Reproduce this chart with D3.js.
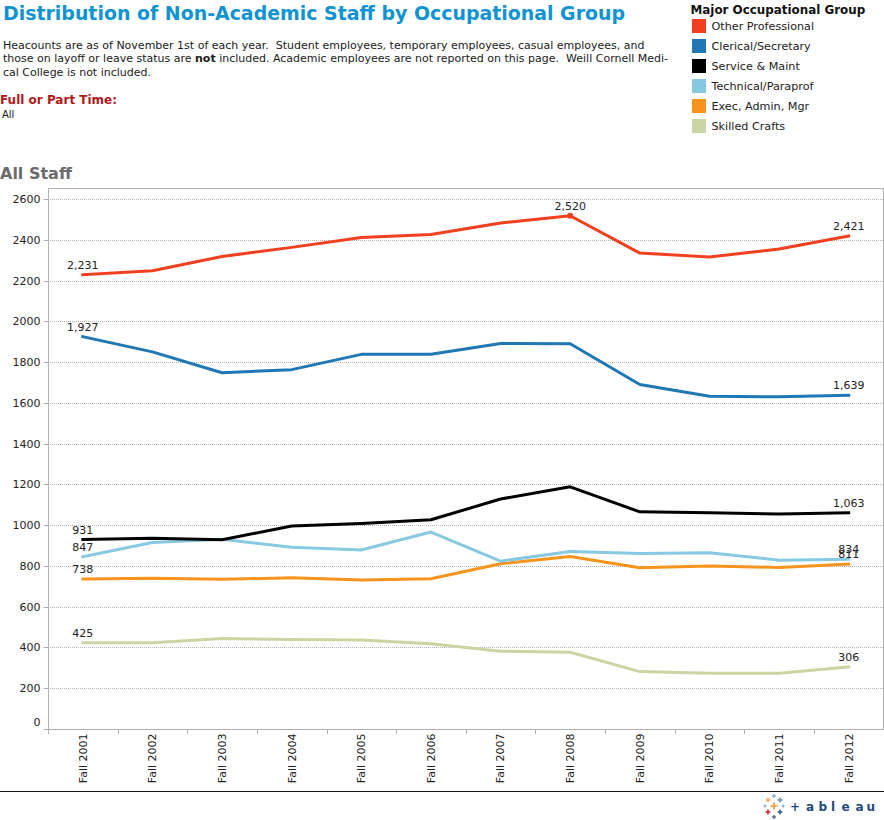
<!DOCTYPE html>
<html>
<head>
<meta charset="utf-8">
<script src="https://cdn.jsdelivr.net/npm/d3@7"></script>
<style>
  html, body { margin: 0; padding: 0; background: #fff; }
  svg { display: block; font-family: "DejaVu Sans", Verdana, sans-serif; }
</style>
</head>
<body>
<svg id="chart" width="884" height="820"></svg>
<script>
var years = ["Fall 2001", "Fall 2002", "Fall 2003", "Fall 2004", "Fall 2005", "Fall 2006",
             "Fall 2007", "Fall 2008", "Fall 2009", "Fall 2010", "Fall 2011", "Fall 2012"]
var groups = ["Other Professional", "Clerical/Secretary", "Service & Maint",
              "Technical/Paraprof", "Exec, Admin, Mgr", "Skilled Crafts"]
var colors = ["#f1401f", "#1f77b4", "#000000", "#87c9e0", "#f7941d", "#c9d6a3"]

var otherProfessional = [2231, 2250, 2320, 2365, 2413, 2428, 2485, 2520, 2337, 2318, 2357, 2421]
var clericalSecretary = [1927, 1852, 1750, 1765, 1840, 1840, 1893, 1892, 1692, 1634, 1632, 1639]
var serviceMaint      = [931, 938, 930, 998, 1010, 1028, 1130, 1190, 1067, 1062, 1057, 1063]
var technicalParaprof = [847, 917, 932, 893, 880, 968, 825, 872, 862, 866, 830, 834]
var execAdminMgr      = [738, 741, 736, 743, 733, 739, 812, 848, 793, 801, 794, 811]
var skilledCrafts     = [425, 425, 445, 440, 438, 420, 383, 378, 283, 275, 275, 306]
var seriesValues = [otherProfessional, clericalSecretary, serviceMaint,
                    technicalParaprof, execAdminMgr, skilledCrafts]

var yTicks = [0, 200, 400, 600, 800, 1000, 1200, 1400, 1600, 1800, 2000, 2200, 2400, 2600]
var noteLines = [
  ["Heacounts are as of November 1st of each year.  Student employees, temporary employees, casual employees, and"],
  ["those on layoff or leave status are ", "not", " included. Academic employees are not reported on this page.  Weill Cornell Medi-"],
  ["cal College is not included."]
]

var svg = d3.select("#chart")
var plot = {left: 48, right: 883, top: 188, bottom: 729}

var x = d3.scaleBand().domain(years).range([plot.left, plot.right + 0.5])
var y = d3.scaleLinear().domain([0, 2600]).range([729.25, 199.5])

// crisp pixel row for grid and tick lines
var yRow = function(d){ return Math.round(y(d) - 0.5) + 0.5 }

// header text
svg.append("text").attr("x", 3).attr("y", 20)
  .attr("font-size", 20).attr("font-weight", "bold").attr("fill", "#0f93d2")
  .attr("textLength", 622).attr("lengthAdjust", "spacingAndGlyphs")
  .text("Distribution of Non-Academic Staff by Occupational Group")

noteLines.forEach(function(parts, i){
  var t = svg.append("text").attr("x", 3).attr("y", 49 + i * 13.4)
    .attr("font-size", 11).attr("fill", "#1a1a1a").attr("xml:space", "preserve")
  parts.forEach(function(p, j){
    t.append("tspan").attr("font-weight", j == 1 ? "bold" : "normal").text(p)
  })
})

svg.append("text").attr("x", 0).attr("y", 104)
  .attr("font-size", 12).attr("font-weight", "bold").attr("fill", "#b2181b")
  .text("Full or Part Time:")
svg.append("text").attr("x", 2).attr("y", 118)
  .attr("font-size", 10).attr("fill", "#1a1a1a").text("All")

svg.append("text").attr("x", 0).attr("y", 179)
  .attr("font-size", 16).attr("font-weight", "bold").attr("fill", "#6b6b6b")
  .text("All Staff")

// legend
svg.append("text").attr("x", 690.5).attr("y", 14)
  .attr("font-size", 11.9).attr("font-weight", "bold").attr("fill", "#111")
  .text("Major Occupational Group")

var legend = svg.selectAll(".legend").data(groups).enter().append("g")
  .attr("class", "legend")
  .attr("transform", function(d, i){ return "translate(692," + (19 + i * 20) + ")" })
legend.append("rect").attr("width", 14).attr("height", 14)
  .attr("fill", function(d, i){ return colors[i] })
legend.append("text").attr("x", 19.5).attr("y", 11)
  .attr("font-size", 11.2).attr("fill", "#222").text(function(d){ return d })

// plot frame and grid
svg.append("g").selectAll("line").data(yTicks.filter(function(d){ return d > 0 })).enter().append("line")
  .attr("x1", plot.left).attr("x2", plot.right)
  .attr("y1", yRow).attr("y2", yRow)
  .attr("stroke", "#b5b5b5").attr("stroke-dasharray", "1,1")

svg.append("rect").attr("x", plot.left + 0.5).attr("y", plot.top + 0.5)
  .attr("width", plot.right - plot.left).attr("height", plot.bottom - plot.top)
  .attr("fill", "none").attr("stroke", "#b0b0b0")

// axes
var yAxis = svg.append("g").attr("transform", "translate(" + (plot.left + 0.5) + ",0)")
  .call(d3.axisLeft(y).tickValues(yTicks).tickFormat(d3.format("d")).tickSize(5).tickSizeOuter(0))
yAxis.select(".domain").remove()
yAxis.selectAll(".tick").attr("transform", function(d){ return "translate(0," + yRow(d) + ")" })
yAxis.selectAll("line").attr("stroke", "#b0b0b0")
yAxis.selectAll("text").attr("font-size", 11).attr("fill", "#222").attr("font-family", "DejaVu Sans")
yAxis.selectAll(".tick").filter(function(d){ return d == 0 }).select("text").attr("dy", "-0.35em")

var xAxis = svg.append("g").attr("transform", "translate(0," + (plot.bottom + 0.5) + ")")
  .call(d3.axisBottom(x).tickSize(0))
xAxis.select(".domain").remove()
xAxis.selectAll("text")
  .attr("font-size", 11).attr("fill", "#222").attr("font-family", "DejaVu Sans")
  .attr("transform", "rotate(-90)").attr("text-anchor", "end")
  .attr("x", -4).attr("y", 0).attr("dy", "0.35em")

svg.append("g").selectAll("line").data(years.concat(["end"])).enter().append("line")
  .attr("x1", function(d, i){ return Math.round(plot.left + i * x.step()) + 0.5 })
  .attr("x2", function(d, i){ return Math.round(plot.left + i * x.step()) + 0.5 })
  .attr("y1", plot.bottom).attr("y2", plot.bottom + 5)
  .attr("stroke", "#b0b0b0")

// series lines, drawn bottom group first so the red sits on top like the original
var line = d3.line()
  .x(function(d, i){ return x(years[i]) + x.bandwidth() / 2 })
  .y(function(d){ return y(d) })

var drawOrder = [5, 4, 3, 2, 1, 0]
svg.append("g").selectAll("path").data(drawOrder).enter().append("path")
  .attr("d", function(k){ return line(seriesValues[k]) })
  .attr("fill", "none").attr("stroke-width", 3).attr("stroke-linejoin", "round").attr("stroke-linecap", "square")
  .attr("stroke", function(k){ return colors[k] })

// peak marker on Other Professional
svg.append("circle")
  .attr("cx", x("Fall 2008") + x.bandwidth() / 2).attr("cy", y(otherProfessional[7]))
  .attr("r", 3).attr("fill", colors[0])

// value labels: first, last, and the one peak
var fmt = d3.format(",")
var labels = []
seriesValues.forEach(function(vals, k){
  labels.push({year: years[0], value: vals[0], k: k})
  labels.push({year: years[11], value: vals[11], k: k})
})
labels.push({year: years[7], value: otherProfessional[7], k: 0})

svg.append("g").selectAll("text").data(labels).enter().append("text")
  .attr("x", function(d){ return x(d.year) + x.bandwidth() / 2 })
  .attr("y", function(d){ return y(d.value) - 6 })
  .attr("text-anchor", "middle").attr("font-size", 11).attr("fill", "#222")
  .text(function(d){ return fmt(d.value) })

// footer rule and logo
svg.append("line").attr("x1", 0).attr("x2", 884).attr("y1", 791.5).attr("y2", 791.5).attr("stroke", "#111")

var logoMarks = [[0, 0, 3.5, "#f59331"], [-6, -6, 2.5, "#f5a95c"], [6, -6, 2.5, "#5c8fa8"], [0, -10, 2, "#8fb3c4"],
                 [-6, 6, 2.5, "#d4213d"], [6, 6, 2.5, "#2a5a8f"], [0, 11, 2, "#5b6fa0"], [-9, 0, 1.5, "#8fb3c4"], [9, 0, 1.5, "#8fb3c4"]]
var logo = svg.append("g").attr("transform", "translate(774,806)")
logo.selectAll("path").data(logoMarks).enter().append("path")
  .attr("d", function(d){ return "M" + (d[0] - d[2]) + "," + d[1] + "H" + (d[0] + d[2]) + "M" + d[0] + "," + (d[1] - d[2]) + "V" + (d[1] + d[2]) })
  .attr("stroke", function(d){ return d[3] }).attr("stroke-width", 1.5).attr("fill", "none")
svg.append("text").attr("x", "790 806 818.5 831 841.5 855.5 866.5").attr("y", 810.5)
  .attr("font-size", 12).attr("font-weight", "bold").attr("fill", "#234a7d")
  .text("+ableau")
</script>
</body>
</html>
